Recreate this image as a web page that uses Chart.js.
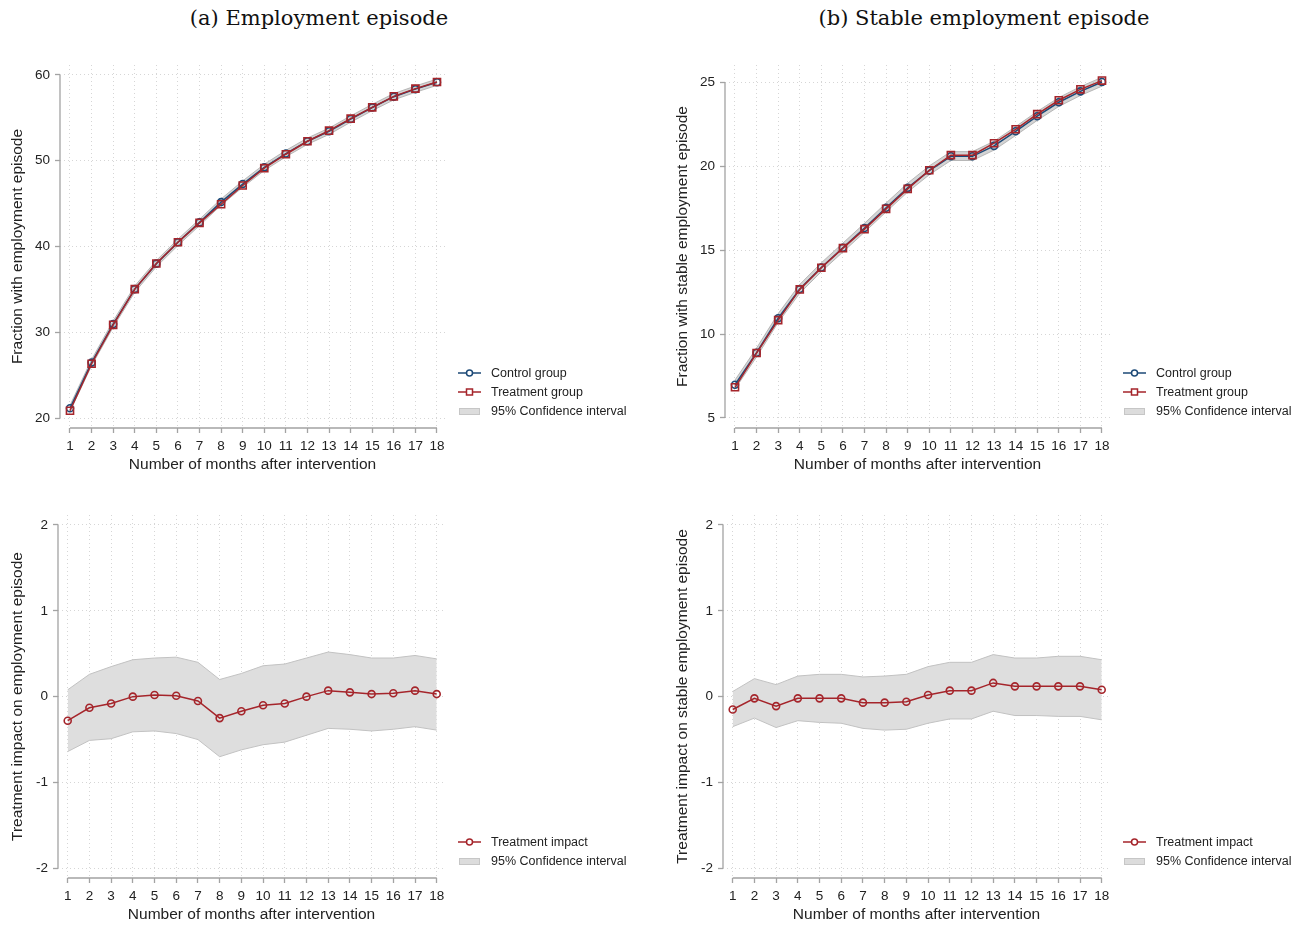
<!DOCTYPE html>
<html>
<head>
<meta charset="utf-8">
<script src="https://cdn.jsdelivr.net/npm/chart.js@4.4.0/dist/chart.umd.min.js"></script>
<style>
  body { margin: 0; background: #fff; width: 1304px; height: 926px; position: relative; overflow: hidden; }
  .title { position: absolute; top: 6px; width: 638px; text-align: center; font-family: "DejaVu Serif", "Liberation Serif", serif; font-size: 21px; color: #111; }
  canvas.chart { position: absolute; }
  .legend { position: absolute; font-family: "Liberation Sans", Arial, sans-serif; font-size: 12.5px; color: #222; }
  .legend .row { height: 19px; display: flex; align-items: center; white-space: nowrap; }
  .legend .row canvas { margin-right: 10px; }
</style>
</head>
<body>
<div class="title" style="left:0">(a) Employment episode</div>
<div class="title" style="left:665px">(b) Stable employment episode</div>
<canvas class="chart" id="empLevels" width="639" height="446" style="left:0;top:30px"></canvas>
<canvas class="chart" id="stableLevels" width="639" height="446" style="left:665px;top:30px"></canvas>
<canvas class="chart" id="empImpactChart" width="639" height="446" style="left:0;top:480px"></canvas>
<canvas class="chart" id="stableImpactChart" width="639" height="446" style="left:665px;top:480px"></canvas>
<script>
// months after intervention
const months = [1, 2, 3, 4, 5, 6, 7, 8, 9, 10, 11, 12, 13, 14, 15, 16, 17, 18];

// (a) employment episode, % of group
const empControl   = [21.13, 26.46, 30.95, 35.03, 38.00, 40.49, 42.81, 45.18, 47.28, 49.23, 50.84, 52.28, 53.44, 54.86, 56.21, 57.47, 58.35, 59.16];
const empTreatment = [20.85, 26.33, 30.87, 35.03, 38.02, 40.50, 42.76, 44.93, 47.11, 49.13, 50.76, 52.27, 53.51, 54.91, 56.23, 57.51, 58.41, 59.18];
const empCiLow     = [20.78, 26.10, 30.58, 34.66, 37.63, 40.12, 42.44, 44.81, 46.91, 48.86, 50.47, 51.91, 53.07, 54.49, 55.84, 57.10, 57.98, 58.79];
const empCiHigh    = [21.48, 26.82, 31.32, 35.40, 38.37, 40.86, 43.18, 45.55, 47.65, 49.60, 51.21, 52.65, 53.81, 55.23, 56.58, 57.84, 58.72, 59.53];

// (b) stable employment episode
const stableControl   = [6.98, 8.89, 10.94, 12.68, 13.97, 15.14, 16.32, 17.53, 18.71, 19.74, 20.59, 20.59, 21.21, 22.08, 22.98, 23.81, 24.46, 25.02];
const stableTreatment = [6.83, 8.87, 10.83, 12.66, 13.95, 15.12, 16.25, 17.46, 18.65, 19.76, 20.66, 20.66, 21.37, 22.20, 23.10, 23.93, 24.58, 25.10];
const stableCiLow     = [6.73, 8.64, 10.69, 12.43, 13.72, 14.89, 16.07, 17.28, 18.46, 19.49, 20.34, 20.34, 20.96, 21.83, 22.73, 23.56, 24.21, 24.77];
const stableCiHigh    = [7.26, 9.17, 11.22, 12.96, 14.25, 15.42, 16.60, 17.81, 18.99, 20.02, 20.87, 20.87, 21.49, 22.36, 23.26, 24.09, 24.74, 25.30];

// treatment impacts (percentage points)
const empImpact     = [-0.28, -0.13, -0.08, 0.00, 0.02, 0.01, -0.05, -0.25, -0.17, -0.10, -0.08, 0.00, 0.07, 0.05, 0.03, 0.04, 0.07, 0.03];
const empImpactLow  = [-0.64, -0.51, -0.49, -0.41, -0.40, -0.43, -0.50, -0.70, -0.62, -0.56, -0.53, -0.45, -0.37, -0.38, -0.40, -0.38, -0.35, -0.39];
const empImpactHigh = [0.08, 0.26, 0.35, 0.43, 0.45, 0.46, 0.40, 0.20, 0.27, 0.36, 0.38, 0.45, 0.52, 0.49, 0.45, 0.45, 0.48, 0.44];

const stableImpact     = [-0.15, -0.02, -0.11, -0.02, -0.02, -0.02, -0.07, -0.07, -0.06, 0.02, 0.07, 0.07, 0.16, 0.12, 0.12, 0.12, 0.12, 0.08];
const stableImpactLow  = [-0.35, -0.25, -0.36, -0.28, -0.30, -0.31, -0.37, -0.39, -0.38, -0.31, -0.26, -0.26, -0.17, -0.22, -0.22, -0.23, -0.23, -0.27];
const stableImpactHigh = [0.06, 0.21, 0.14, 0.24, 0.26, 0.26, 0.23, 0.24, 0.26, 0.35, 0.40, 0.40, 0.49, 0.45, 0.45, 0.47, 0.47, 0.43];

const yTicksEmp = [20, 30, 40, 50, 60];
const yTicksStable = [5, 10, 15, 20, 25];
const yTicksImpact = [-2, -1, 0, 1, 2];

const NAVY = '#1d4a77';
const RED = '#a5252b';
const AXIS = '#a3a3a3';
const TEXT = '#222';

Chart.defaults.font.family = '"Liberation Sans", Arial, sans-serif';
Chart.defaults.color = TEXT;

// little legend keys: line with marker, or a grey box
function lineKey(color, shape) {
    const c = document.createElement('canvas');
    c.width = 23; c.height = 10;
    const ctx = c.getContext('2d');
    ctx.strokeStyle = color;
    ctx.lineWidth = 1.5;
    ctx.beginPath();
    ctx.moveTo(0, 5); ctx.lineTo(8, 5);
    ctx.moveTo(15, 5); ctx.lineTo(23, 5);
    ctx.stroke();
    ctx.beginPath();
    if (shape === 'rect') ctx.rect(8.5, 2, 6, 6);
    else ctx.arc(11.5, 5, 3, 0, Math.PI * 2);
    ctx.stroke();
    return c;
}
function boxKey() {
    const c = document.createElement('canvas');
    c.width = 23; c.height = 9;
    const ctx = c.getContext('2d');
    ctx.fillStyle = '#dcdcdc';
    ctx.strokeStyle = '#c6c6c6';
    ctx.fillRect(1, 1, 21, 7);
    ctx.strokeRect(1.5, 1.5, 20, 6);
    return c;
}

function toPoints(values) {
    return values.map((v, i) => ({ x: months[i], y: v }));
}

function lineSeries(label, values, color, shape, rank) {
    return {
        label: label,
        data: toPoints(values),
        borderColor: color,
        borderWidth: 1.5,
        pointStyle: shape,
        pointRadius: shape === 'rect' ? 5 : 3.5,
        pointBorderColor: color,
        pointBackgroundColor: 'rgba(0,0,0,0)',
        pointBorderWidth: 1.6,
        tension: 0,
        fill: false,
        legendKey: () => lineKey(color, shape),
        legendRank: rank
    };
}

function bandSeries(low, high, fillColor, edgeColor) {
    return [
        { label: 'ci low', data: toPoints(low), borderColor: edgeColor, borderWidth: 1, pointRadius: 0, tension: 0, fill: false },
        { label: '95% Confidence interval', data: toPoints(high), borderColor: edgeColor, borderWidth: 1, pointRadius: 0, tension: 0,
          fill: '-1', backgroundColor: fillColor, legendKey: boxKey, legendRank: 9 }
    ];
}

// axis lines only between first and last tick, like the original
const axisLines = {
    id: 'axisLines',
    beforeDatasetsDraw(chart) {
        const { ctx, chartArea, scales: { x, y } } = chart;
        ctx.save();
        ctx.strokeStyle = AXIS;
        ctx.lineWidth = 1.3;
        ctx.beginPath();
        ctx.moveTo(chartArea.left, y.getPixelForValue(y.ticks[0].value));
        ctx.lineTo(chartArea.left, y.getPixelForValue(y.ticks[y.ticks.length - 1].value));
        ctx.moveTo(x.getPixelForValue(months[0]), chartArea.bottom);
        ctx.lineTo(x.getPixelForValue(months[months.length - 1]), chartArea.bottom);
        ctx.stroke();
        ctx.restore();
    }
};

// legend as html next to the plot, built from the chart's datasets
function htmlLegend(chart, left, top) {
    const box = document.createElement('div');
    box.className = 'legend';
    box.style.left = left + 'px';
    box.style.top = top + 'px';
    chart.data.datasets
        .filter(ds => ds.legendKey)
        .sort((a, b) => a.legendRank - b.legendRank)
        .forEach(ds => {
            const row = document.createElement('div');
            row.className = 'row';
            row.appendChild(ds.legendKey());
            const span = document.createElement('span');
            span.textContent = ds.label;
            row.appendChild(span);
            box.appendChild(row);
        });
    document.body.appendChild(box);
}

function makeChart(id, cfg) {
    const ctx = document.getElementById(id).getContext('2d');
    const chart = new Chart(ctx, {
        type: 'line',
        data: { datasets: cfg.datasets },
        options: {
            responsive: false,
            animation: false,
            events: [],
            layout: { padding: { top: 35, right: 194, bottom: 0, left: 0 } },
            plugins: {
                tooltip: { enabled: false },
                legend: { display: false }
            },
            scales: {
                x: {
                    type: 'linear',
                    min: cfg.xMin,
                    max: cfg.xMax,
                    afterBuildTicks: s => { s.ticks = months.map(v => ({ value: v })); },
                    afterFit: s => { s.height = 48; },
                    ticks: { font: { size: 13.5 }, color: TEXT, padding: 5, maxRotation: 0, autoSkip: false },
                    grid: { color: '#d6d6d6', lineWidth: 1, tickLength: 5, tickColor: AXIS, tickWidth: 1.3 },
                    border: { display: false, dash: [1, 3] },
                    title: { display: true, text: 'Number of months after intervention', font: { size: 15.5 }, color: TEXT, padding: { top: 0, bottom: 2 } }
                },
                y: {
                    type: 'linear',
                    min: cfg.yMin,
                    max: cfg.yMax,
                    afterBuildTicks: s => { s.ticks = cfg.yTicks.map(v => ({ value: v })); },
                    afterFit: s => { s.width = cfg.yAxisWidth; },
                    ticks: { font: { size: 13.5 }, color: TEXT, padding: 5 },
                    grid: { color: '#d6d6d6', lineWidth: 1, tickLength: 5, tickColor: AXIS, tickWidth: 1.3 },
                    border: { display: false, dash: [1, 3] },
                    title: { display: true, text: cfg.yTitle, font: { size: 15.5 }, color: TEXT, padding: { top: 8.7, bottom: 0 } }
                }
            }
        },
        plugins: [axisLines]
    });
    htmlLegend(chart, cfg.legendLeft, cfg.legendTop);
    return chart;
}

makeChart('empLevels', {
    datasets: [
        lineSeries('Treatment group', empTreatment, RED, 'rect', 2),
        lineSeries('Control group', empControl, NAVY, 'circle', 1),
        ...bandSeries(empCiLow, empCiHigh, 'rgba(160,160,160,0.45)', 'rgba(170,170,170,0.8)')
    ],
    yMin: 18.834, yMax: 61.166, yTicks: yTicksEmp,
    xMin: 0.537, xMax: 18.371, yAxisWidth: 60,
    yTitle: 'Fraction with employment episode',
    legendLeft: 458, legendTop: 363.5
});

makeChart('stableLevels', {
    datasets: [
        lineSeries('Treatment group', stableTreatment, RED, 'rect', 2),
        lineSeries('Control group', stableControl, NAVY, 'circle', 1),
        ...bandSeries(stableCiLow, stableCiHigh, 'rgba(160,160,160,0.45)', 'rgba(170,170,170,0.8)')
    ],
    yMin: 4.404, yMax: 26.03, yTicks: yTicksStable,
    xMin: 0.537, xMax: 18.371, yAxisWidth: 60,
    yTitle: 'Fraction with stable employment episode',
    legendLeft: 1123, legendTop: 363.5
});

makeChart('empImpactChart', {
    datasets: [
        lineSeries('Treatment impact', empImpact, RED, 'circle', 1),
        ...bandSeries(empImpactLow, empImpactHigh, '#dedede', '#c2c2c2')
    ],
    yMin: -2.113, yMax: 2.1165, yTicks: yTicksImpact,
    xMin: 0.553, xMax: 18.382, yAxisWidth: 58,
    yTitle: 'Treatment impact on employment episode',
    legendLeft: 458, legendTop: 832.5
});

makeChart('stableImpactChart', {
    datasets: [
        lineSeries('Treatment impact', stableImpact, RED, 'circle', 1),
        ...bandSeries(stableImpactLow, stableImpactHigh, '#dedede', '#c2c2c2')
    ],
    yMin: -2.113, yMax: 2.1165, yTicks: yTicksImpact,
    xMin: 0.553, xMax: 18.382, yAxisWidth: 58,
    yTitle: 'Treatment impact on stable employment episode',
    legendLeft: 1123, legendTop: 832.5
});
</script>
</body>
</html>
